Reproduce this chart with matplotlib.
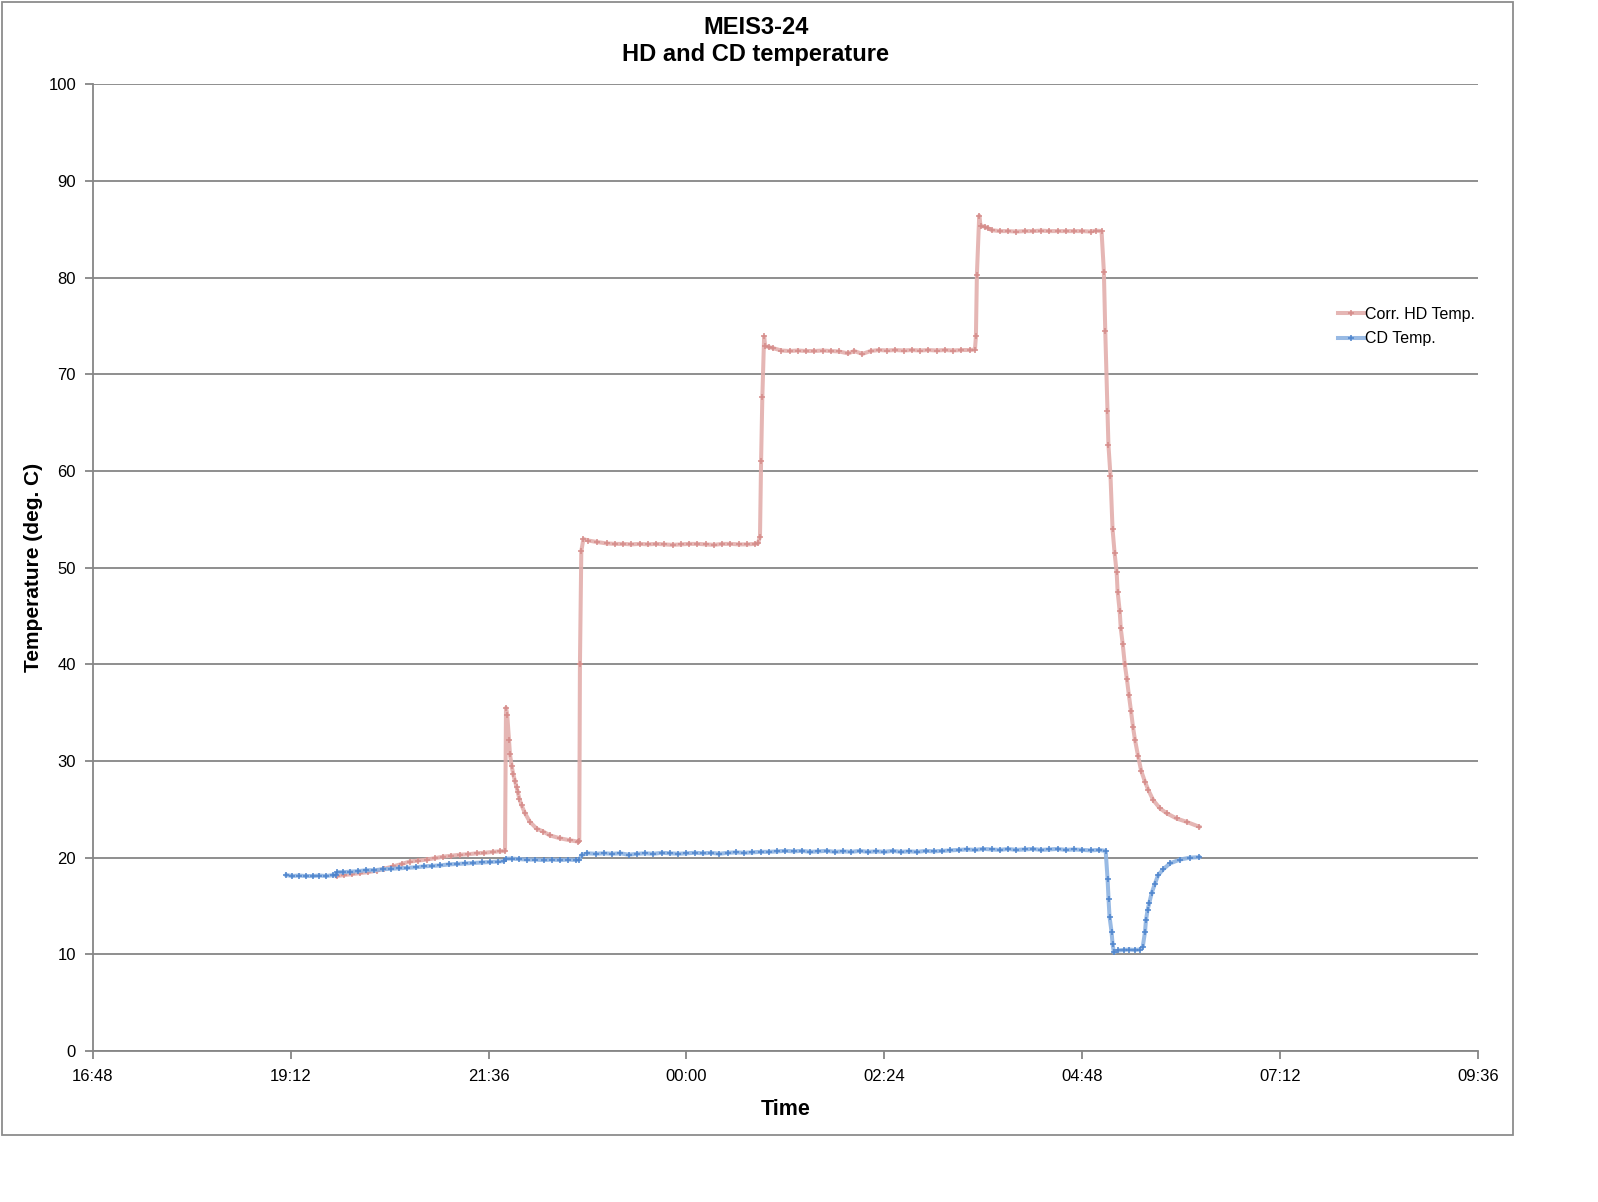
"""MEIS3-24 HD and CD temperature log, redrawn from the chart."""

import matplotlib

matplotlib.use("Agg")
import matplotlib.pyplot as plt
from matplotlib.patches import Rectangle
from matplotlib.ticker import FixedLocator, FuncFormatter

START_MIN = 16 * 60 + 48  # x axis origin, 16:48

# minutes after 16:48 / deg C
cd_minutes = [
    141, 145, 150, 155, 160, 165, 170, 175, 177, 178, 182, 187, 193, 199, 205, 211, 217,
    223, 229, 235, 241, 247, 253, 259, 265, 271, 277, 283, 289, 295, 299, 301, 305, 310,
    316, 322, 328, 334, 340, 346, 352, 354, 356, 360, 366, 372, 378, 384, 390, 396, 402,
    408, 414, 420, 426, 432, 438, 444, 450, 456, 462, 468, 474, 480, 486, 492, 498, 504,
    510, 516, 522, 528, 534, 540, 546, 552, 558, 564, 570, 576, 582, 588, 594, 600, 606,
    612, 618, 624, 630, 636, 642, 648, 654, 660, 666, 672, 678, 684, 690, 696, 702, 708,
    714, 720, 726, 732, 737, 738.4, 739.1, 739.8, 741.3, 742, 743, 746, 750, 754, 758,
    762, 764, 765.6, 766.3, 767.5, 768.7, 770.4, 772.8, 775.2, 778.9, 783.7, 791, 798.3, 805,
]
cd_temp = [
    18.2, 18.1, 18.15, 18.1, 18.1, 18.15, 18.1, 18.2, 18.2, 18.5, 18.5, 18.55, 18.6, 18.7,
    18.7, 18.8, 18.85, 18.9, 18.95, 19.0, 19.1, 19.15, 19.2, 19.3, 19.35, 19.4, 19.45, 19.5,
    19.55, 19.6, 19.65, 19.9, 19.9, 19.85, 19.8, 19.8, 19.75, 19.8, 19.75, 19.8, 19.75, 19.8,
    20.3, 20.45, 20.4, 20.45, 20.4, 20.45, 20.3, 20.4, 20.45, 20.4, 20.5, 20.45, 20.4, 20.45,
    20.5, 20.45, 20.5, 20.4, 20.5, 20.55, 20.5, 20.55, 20.6, 20.6, 20.65, 20.7, 20.65, 20.7,
    20.6, 20.65, 20.7, 20.6, 20.65, 20.6, 20.7, 20.6, 20.65, 20.6, 20.7, 20.6, 20.65, 20.6,
    20.7, 20.65, 20.7, 20.75, 20.8, 20.85, 20.8, 20.9, 20.85, 20.8, 20.9, 20.8, 20.85, 20.9,
    20.8, 20.85, 20.9, 20.8, 20.85, 20.8, 20.75, 20.8, 20.7, 17.75, 15.7, 13.9, 12.3, 11.1,
    10.2, 10.4, 10.45, 10.5, 10.45, 10.5, 10.8, 12.3, 13.5, 14.6, 15.3, 16.3, 17.3, 18.2,
    18.8, 19.4, 19.8, 20.0, 20.05,
]

hd_minutes = [
    177.4, 183, 189, 194.5, 200, 206.6, 212, 218.7, 225, 230.8, 237, 243, 249, 255, 261, 267,
    273, 279.4, 285, 291.4, 296, 300, 300.7, 301.6, 302.9, 303.6, 304.8, 306, 307.2, 308.4,
    309.2, 310.4, 312.1, 314.5, 318.1, 323, 327.8, 332.7, 340, 347.2, 353.3, 354, 354.5,
    355.5, 357, 360.5, 366.6, 374, 380, 386, 392, 398, 404, 410, 416, 422, 428, 434, 440,
    446, 452, 458, 464, 470, 476, 482, 484, 485.5, 486.3, 487.2, 488.5, 489.3, 492, 495,
    501, 507, 513, 519, 525, 531, 537, 543, 549.7, 554, 560, 566, 572, 578, 584, 590, 596,
    602, 608, 614, 620, 626, 632, 638, 641.9, 642.6, 643.3, 645, 646, 649, 651.5, 654, 660,
    666, 672, 678, 684, 690, 696, 702, 708, 714, 720, 726, 730, 734, 735.7, 736.7, 738.3,
    739, 740.5, 742, 743.5, 745, 745.7, 747.2, 748, 749.4, 750.9, 752.4, 753.9, 755.4,
    756.9, 758.3, 760.6, 762.8, 765.6, 768, 771.6, 776.5, 781.3, 788.6, 795.9, 805,
]
hd_temp = [
    18.1, 18.2, 18.3, 18.4, 18.5, 18.65, 18.85, 19.1, 19.35, 19.6, 19.7, 19.8, 19.95, 20.1,
    20.2, 20.3, 20.35, 20.45, 20.5, 20.6, 20.65, 20.7, 35.5, 34.8, 32.2, 30.7, 29.5, 28.6,
    27.95, 27.3, 26.8, 26.1, 25.4, 24.6, 23.7, 23.0, 22.7, 22.3, 22.0, 21.8, 21.65, 21.75,
    40.0, 51.7, 52.95, 52.8, 52.65, 52.5, 52.45, 52.45, 52.4, 52.45, 52.4, 52.45, 52.4,
    52.35, 52.4, 52.45, 52.45, 52.4, 52.35, 52.45, 52.45, 52.4, 52.4, 52.45, 52.5, 53.2,
    61.0, 67.6, 73.9, 72.9, 72.8, 72.7, 72.45, 72.4, 72.45, 72.4, 72.4, 72.45, 72.4, 72.35,
    72.15, 72.4, 72.1, 72.4, 72.5, 72.45, 72.5, 72.45, 72.5, 72.45, 72.5, 72.45, 72.5,
    72.45, 72.5, 72.5, 72.55, 73.9, 80.25, 86.4, 85.35, 85.25, 85.1, 84.9, 84.8, 84.8,
    84.75, 84.8, 84.8, 84.85, 84.8, 84.8, 84.8, 84.8, 84.8, 84.75, 84.85, 84.8, 80.6, 74.5,
    66.2, 62.7, 59.5, 54.0, 51.5, 49.5, 47.5, 45.5, 43.7, 42.1, 40.0, 38.5, 36.8, 35.2,
    33.5, 32.2, 30.5, 29.0, 27.85, 27.0, 25.95, 25.1, 24.6, 24.05, 23.7, 23.2,
]

x_ticks = [0, 144, 288, 432, 576, 720, 864, 1008]
y_ticks = [0, 10, 20, 30, 40, 50, 60, 70, 80, 90, 100]

GRID = "#868686"
FONT = ["Liberation Sans", "DejaVu Sans"]


def clock_label(value, _pos=None) -> str:
    total = int(round(value + START_MIN)) % (24 * 60)
    return f"{total // 60:02d}:{total % 60:02d}"


def main() -> None:
    plt.rcParams["font.family"] = FONT
    fig = plt.figure(figsize=(15.98, 12.02), dpi=100)
    fig.patches.append(Rectangle((0.0013, 0.0557), 0.9455, 0.9425, transform=fig.transFigure,
                                 fill=False, edgecolor="#8c8c8c", linewidth=1.3))
    ax = fig.add_axes([0.058, 0.1256, 0.867, 0.8044])

    ax.plot(hd_minutes, hd_temp, color="#e3aeac", linewidth=2.9, alpha=0.9,
            marker="+", markersize=4, markeredgewidth=1.2, markeredgecolor="#d58a88",
            label="Corr. HD Temp.", zorder=3)
    ax.plot(cd_minutes, cd_temp, color="#8db3e2", linewidth=2.9, alpha=0.9,
            marker="+", markersize=4, markeredgewidth=1.2, markeredgecolor="#4a82cc",
            label="CD Temp.", zorder=4)

    ax.set_xlim(0, 1008)
    ax.set_ylim(0, 100)
    ax.xaxis.set_major_locator(FixedLocator(x_ticks))
    ax.xaxis.set_major_formatter(FuncFormatter(clock_label))
    ax.set_yticks(y_ticks)
    ax.grid(axis="y", color=GRID, linewidth=1.3)
    ax.set_axisbelow(True)
    for side in ("top", "right"):
        ax.spines[side].set_visible(False)
    for side in ("left", "bottom"):
        ax.spines[side].set_color(GRID)
        ax.spines[side].set_linewidth(1.3)
    ax.tick_params(direction="out", length=6, width=1.3, color=GRID, labelsize=12,
                   labelcolor="black", pad=6)
    ax.tick_params(axis="x", pad=7)

    ax.set_xlabel("Time", fontsize=15.5, fontweight="bold", labelpad=11)
    ax.set_ylabel("Temperature (deg. C)", fontsize=15, fontweight="bold", labelpad=4)
    fig.text(0.473, 0.977, "MEIS3-24", ha="center", va="center", fontsize=17, fontweight="bold")
    fig.text(0.473, 0.955, "HD and CD temperature", ha="center", va="center",
             fontsize=17, fontweight="bold")

    ax.legend(loc="upper left", bbox_to_anchor=(0.833, 0.750), bbox_transform=fig.transFigure,
              frameon=False, fontsize=11.5, handlelength=1.7, handletextpad=0.05,
              labelspacing=0.6, borderaxespad=0)

    fig.savefig("out.png", dpi=100)
    plt.close(fig)


if __name__ == "__main__":
    main()
